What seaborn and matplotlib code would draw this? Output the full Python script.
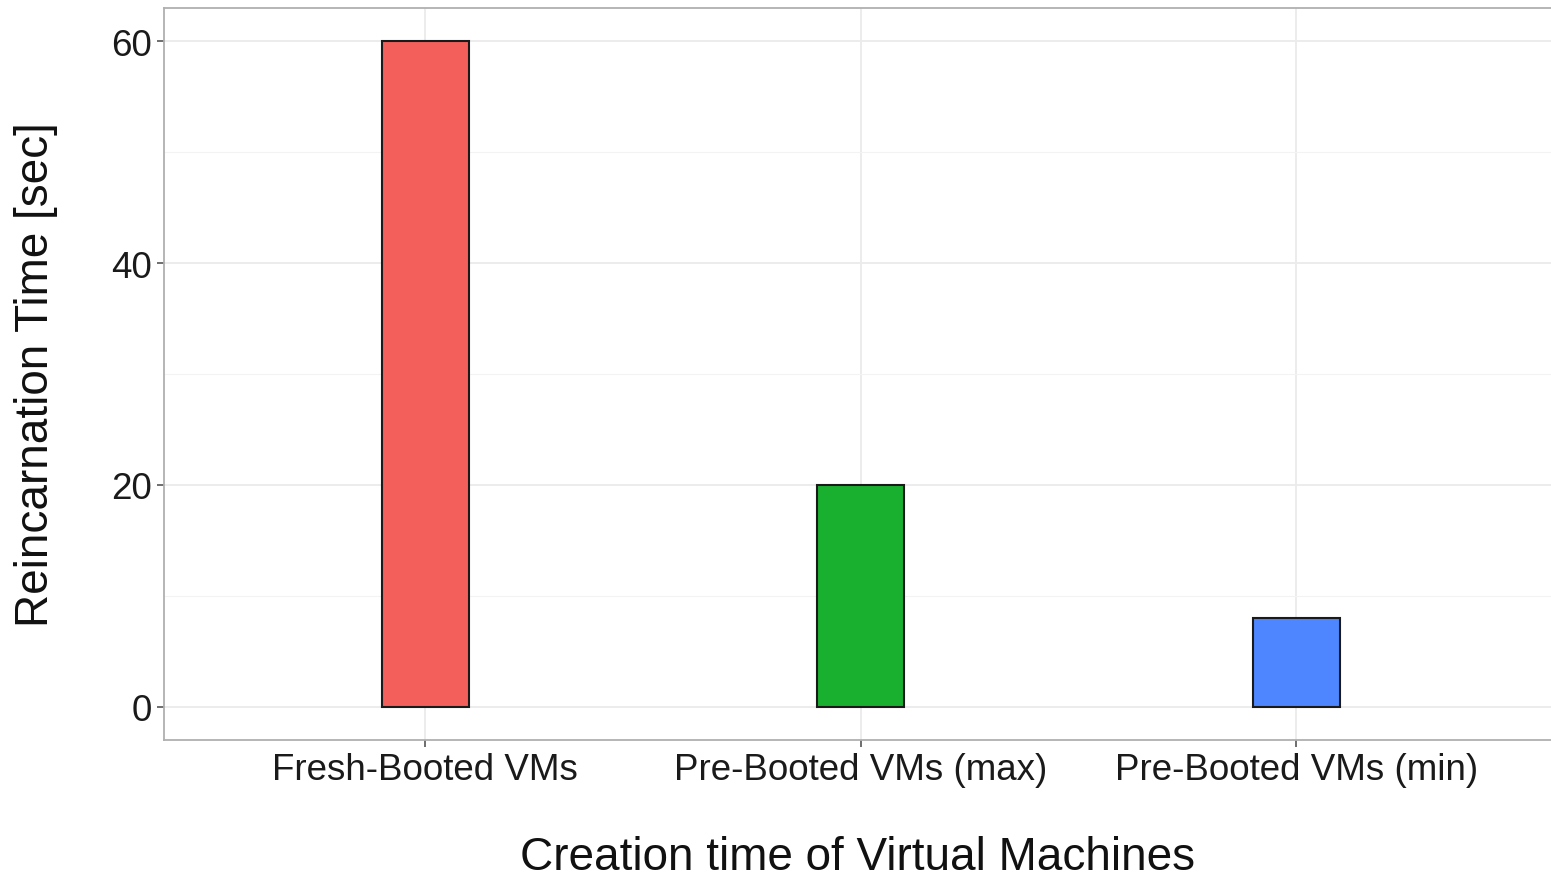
import matplotlib
matplotlib.use("Agg")
import matplotlib.pyplot as plt
import seaborn as sns
import pandas as pd
from matplotlib.ticker import MultipleLocator

categories = ["Fresh-Booted VMs", "Pre-Booted VMs (max)", "Pre-Booted VMs (min)"]
values = [60, 20, 8]
colors = ["#F35F5B", "#1AB02F", "#4D86FF"]
y_ticks = [0, 20, 40, 60]

sns.set_theme(style="white")
plt.rcParams['font.family'] = ['Liberation Sans', 'DejaVu Sans']

df = pd.DataFrame({"cat": categories, "val": values})

fig = plt.figure(figsize=(15.51, 8.78), dpi=100)
ax = fig.add_axes([164/1551, 1 - 741/878, 1.0 - 164/1551, (741 - 9)/878])

sns.barplot(data=df, x="cat", y="val", hue="cat", palette=colors, width=0.2,
            saturation=1, edgecolor="#1a1a1a", linewidth=1.5, legend=False,
            ax=ax, zorder=3)

ax.set_xlim(-0.6, 2.585)
ax.set_ylim(-3, 63)
ax.set_yticks(y_ticks)
ax.yaxis.set_minor_locator(MultipleLocator(10))
ax.grid(True, which="major", color="#EBEBEB", linewidth=1.3, zorder=0)
ax.grid(True, which="minor", axis="y", color="#F3F3F3", linewidth=0.8, zorder=0)
ax.set_axisbelow(True)

for s in ax.spines.values():
    s.set_color("#B0B0B0")
    s.set_linewidth(1.3)
ax.spines["right"].set_visible(False)

ax.tick_params(axis="both", which="major", length=5, width=1.2, color="#555555",
               labelsize=26.5, labelcolor="#1a1a1a", pad=4, bottom=True, left=True)
ax.tick_params(axis="y", which="minor", length=0)

ax.set_xlabel("Creation time of Virtual Machines", fontsize=33, color="#111111", labelpad=34)
ax.set_ylabel("Reincarnation Time [sec]", fontsize=33, color="#111111", labelpad=38)

fig.savefig("out.png", dpi=100)
